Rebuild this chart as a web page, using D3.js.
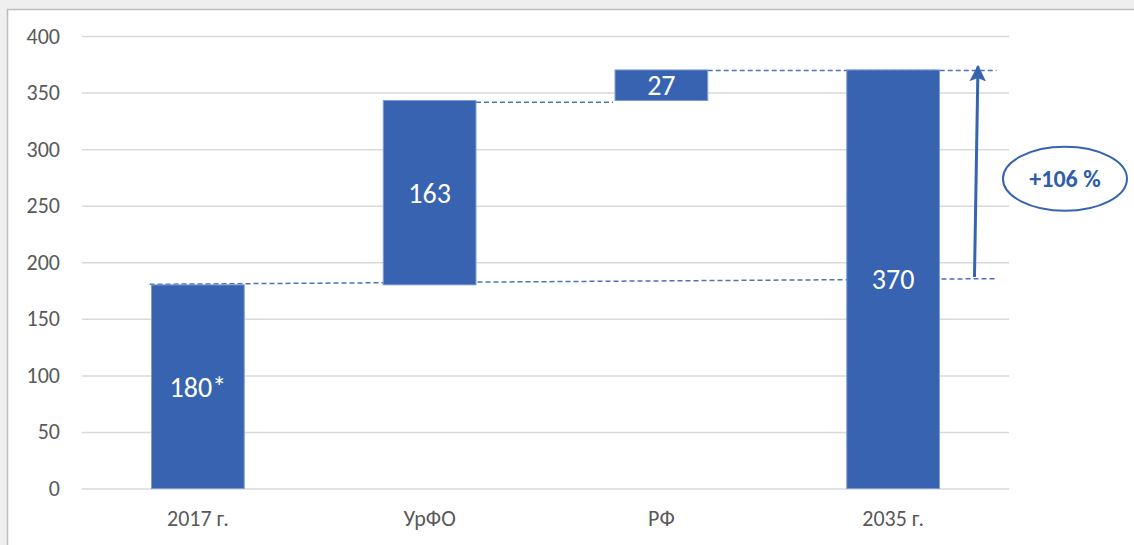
<!DOCTYPE html>
<html>
<head>
<meta charset="utf-8">
<script src="https://cdn.jsdelivr.net/npm/d3@7"></script>
<style>
  body { margin: 0; background: #efefef; }
  svg { display: block; }
</style>
</head>
<body>
<script>
/**
 * Data
 */
const categories = ["2017 г.", "УрФО", "РФ", "2035 г."];
const barStarts = [0, 180, 343, 0];      // base of each floating bar
const barValues = [180, 163, 27, 370];   // height of each bar
const barLabels = ["180*", "163", "27", "370"];
const yTicks = [0, 50, 100, 150, 200, 250, 300, 350, 400];

// dashed connectors: [from category, side, to category, side, value at start, value at end]
const connectors = [
    ["2017 г.", "left", "2035 г.", "beyond", 180.5, 185.5],
    ["УрФО", "right", "РФ", "left", 341.5, 341.5],
    ["РФ", "right", "2035 г.", "beyond", 369.5, 369.5]
];
const arrowFrom = 187;
const arrowTo = 366;
const growthLabel = "+106 %";

/**
 * Layout
 */
const WIDTH = 1134;
const HEIGHT = 545;
const PLOT_LEFT = 82;
const PLOT_RIGHT = 1009;
const PLOT_TOP = 36;
const PLOT_BOTTOM = 488.5;

const BAR_COLOR = "#3763b0";
const LINE_COLOR = "#4a72b9";
const TEXT_COLOR = "#595959";
const FONT = "Carlito, Lato, 'Open Sans', sans-serif";

const svg = d3.select("body").append("svg")
    .attr("width", WIDTH)
    .attr("height", HEIGHT);

// outer frame (chart sits in a slightly grey surround)
svg.append("rect")
    .attr("x", 7.5).attr("y", 9.5)
    .attr("width", WIDTH + 10).attr("height", HEIGHT + 10)
    .attr("fill", "white")
    .attr("stroke", "#bcbcbc")
    .attr("stroke-width", 1.5);

const x = d3.scaleBand()
    .domain(categories)
    .range([PLOT_LEFT, PLOT_RIGHT])
    .paddingInner(0.6)
    .paddingOuter(0.3);

const y = d3.scaleLinear()
    .domain([0, 400])
    .range([PLOT_BOTTOM, PLOT_TOP]);

function edgeX(cat, side) {
    if (side == "left") return x(cat) - 2;
    if (side == "right") return x(cat) + x.bandwidth();
    return x(cat) + x.bandwidth() + 57;   // "beyond" the last bar
}

function main() {
    // gridlines + y labels
    const yAxis = d3.axisLeft(y)
        .tickValues(yTicks)
        .tickSize(-(PLOT_RIGHT - PLOT_LEFT))
        .tickPadding(22);
    const gy = svg.append("g")
        .attr("transform", `translate(${PLOT_LEFT},0)`)
        .call(yAxis);
    gy.select(".domain").remove();
    gy.selectAll(".tick line")
        .attr("stroke", "#d9d9d9")
        .attr("stroke-width", 1.5);
    gy.selectAll(".tick text")
        .attr("fill", TEXT_COLOR)
        .style("font-family", FONT)
        .style("font-size", "22px");

    // category labels
    const xAxis = d3.axisBottom(x).tickSize(0).tickPadding(22);
    const gx = svg.append("g")
        .attr("transform", `translate(0,${PLOT_BOTTOM})`)
        .call(xAxis);
    gx.select(".domain").remove();
    gx.selectAll(".tick text")
        .attr("fill", TEXT_COLOR)
        .style("font-family", FONT)
        .style("font-size", "22px");

    // connectors
    svg.selectAll(".conn")
        .data(connectors)
        .join("line")
        .attr("class", "conn")
        .attr("x1", d => edgeX(d[0], d[1]))
        .attr("x2", d => edgeX(d[2], d[3]))
        .attr("y1", d => y(d[4]))
        .attr("y2", d => y(d[5]))
        .attr("stroke", LINE_COLOR)
        .attr("stroke-width", 1.5)
        .attr("stroke-dasharray", "5,3");

    // bars
    svg.selectAll(".bar")
        .data(categories)
        .join("rect")
        .attr("class", "bar")
        .attr("x", d => x(d))
        .attr("width", x.bandwidth())
        .attr("y", (d, i) => y(barStarts[i] + barValues[i]))
        .attr("height", (d, i) => y(barStarts[i]) - y(barStarts[i] + barValues[i]))
        .attr("fill", BAR_COLOR)
        .attr("stroke", "#7e9cd2")
        .attr("stroke-width", 1);

    // bar labels
    svg.selectAll(".lbl")
        .data(categories)
        .join("text")
        .attr("class", "lbl")
        .attr("x", d => x(d) + x.bandwidth() / 2)
        .attr("y", (d, i) => y(barStarts[i] + barValues[i] / 2))
        .attr("dy", "0.36em")
        .attr("text-anchor", "middle")
        .attr("fill", "white")
        .style("font-family", FONT)
        .style("font-size", "28px")
        .text((d, i) => barLabels[i]);

    // growth arrow
    const last = categories[categories.length - 1];
    const ax0 = x(last) + x.bandwidth() + 35;
    const ax1 = x(last) + x.bandwidth() + 38.5;
    svg.append("defs").append("marker")
        .attr("id", "head")
        .attr("viewBox", "0 0 10 10")
        .attr("refX", 9).attr("refY", 5)
        .attr("markerWidth", 5.5).attr("markerHeight", 5.5)
        .attr("markerUnits", "strokeWidth")
        .attr("orient", "auto")
        .append("path")
        .attr("d", "M0,0 L10,5 L0,10 L2,5 Z")
        .attr("fill", BAR_COLOR);
    svg.append("line")
        .attr("x1", ax0).attr("y1", y(arrowFrom))
        .attr("x2", ax1).attr("y2", y(arrowTo) - 8)
        .attr("stroke", BAR_COLOR)
        .attr("stroke-width", 3)
        .attr("marker-end", "url(#head)");

    // growth bubble
    const cx = ax1 + 87;
    const cy = y((arrowFrom + arrowTo) / 2) + 3;
    svg.append("ellipse")
        .attr("cx", cx).attr("cy", cy)
        .attr("rx", 62).attr("ry", 32)
        .attr("fill", "white")
        .attr("stroke", BAR_COLOR)
        .attr("stroke-width", 2);
    svg.append("text")
        .attr("x", cx).attr("y", cy)
        .attr("dy", "0.36em")
        .attr("text-anchor", "middle")
        .attr("fill", "#2f5ea9")
        .style("font-family", FONT)
        .style("font-weight", "bold")
        .style("font-size", "24px")
        .text(growthLabel);
}

main()
</script>
</body>
</html>
